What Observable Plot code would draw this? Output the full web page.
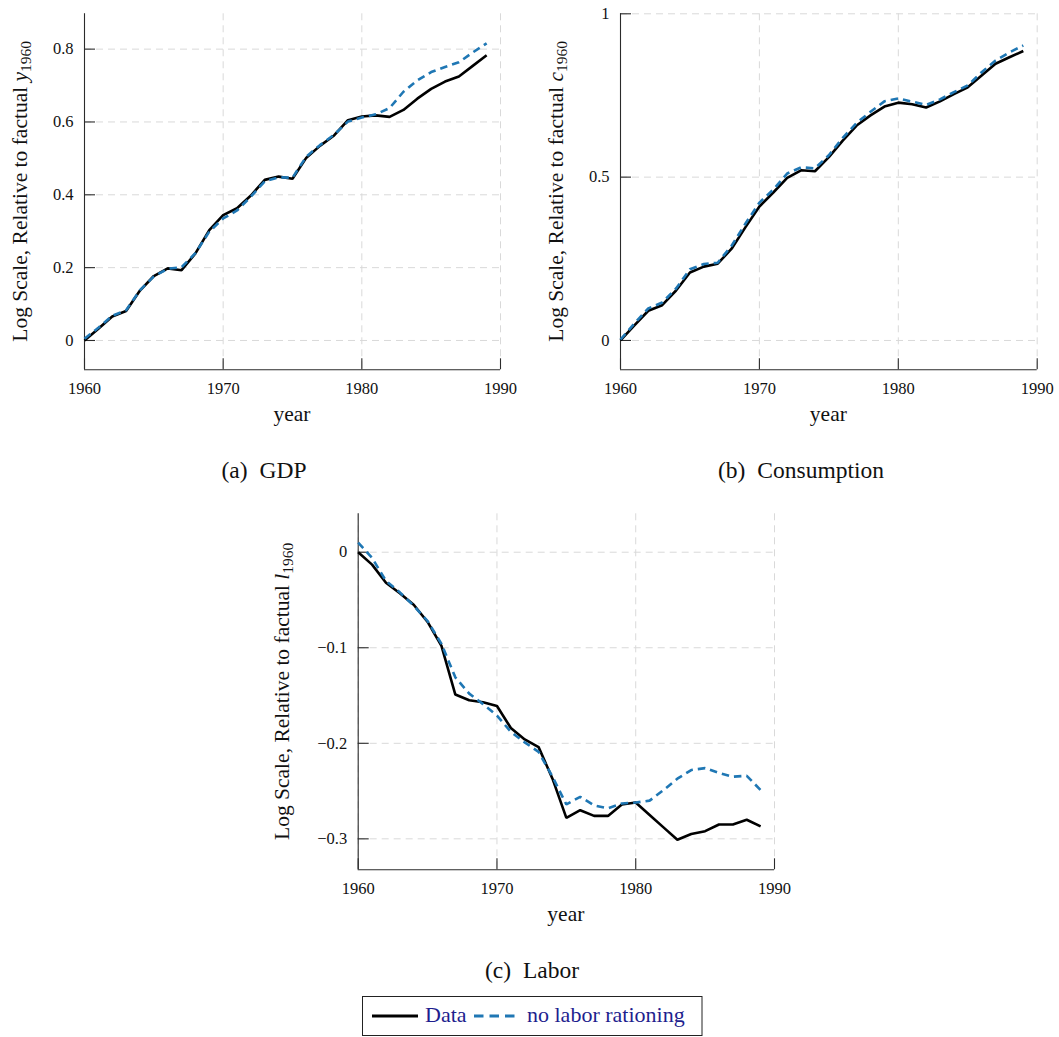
<!DOCTYPE html>
<html>
<head>
<meta charset="utf-8">
<script src="https://cdn.jsdelivr.net/npm/d3@7"></script>
<script src="https://cdn.jsdelivr.net/npm/@observablehq/plot@0.6"></script>
<style>
  body { margin: 0; background: #fff; }
  #page { position: relative; width: 1059px; height: 1037px; overflow: hidden; background: #fff; }
  .panel { position: absolute; }
  .panel svg { max-width: none; }
  #overlay { position: absolute; left: 0; top: 0; pointer-events: none; }
</style>
</head>
<body>
<div id="page"></div>
<script>
// Years covered by every series
const years = [1960, 1961, 1962, 1963, 1964, 1965, 1966, 1967, 1968, 1969,
               1970, 1971, 1972, 1973, 1974, 1975, 1976, 1977, 1978, 1979,
               1980, 1981, 1982, 1983, 1984, 1985, 1986, 1987, 1988, 1989];

// (a) GDP, log deviation from factual 1960 level
const gdpData = [0.000, 0.032, 0.066, 0.081, 0.137, 0.177, 0.198, 0.193, 0.239, 0.303,
                 0.344, 0.363, 0.398, 0.441, 0.450, 0.444, 0.502, 0.535, 0.563, 0.605,
                 0.615, 0.618, 0.614, 0.633, 0.664, 0.691, 0.711, 0.725, 0.754, 0.783];
const gdpNoRationing = [0.005, 0.035, 0.068, 0.083, 0.138, 0.176, 0.197, 0.201, 0.240, 0.299,
                        0.335, 0.357, 0.395, 0.437, 0.448, 0.447, 0.505, 0.537, 0.565, 0.601,
                        0.612, 0.621, 0.638, 0.683, 0.714, 0.737, 0.751, 0.764, 0.791, 0.816];

// (b) Consumption
const consData = [0.000, 0.046, 0.091, 0.108, 0.153, 0.208, 0.226, 0.235, 0.281, 0.347,
                  0.410, 0.453, 0.498, 0.521, 0.518, 0.561, 0.612, 0.658, 0.689, 0.716,
                  0.728, 0.723, 0.713, 0.732, 0.754, 0.775, 0.811, 0.847, 0.867, 0.886];
const consNoRationing = [0.003, 0.052, 0.098, 0.116, 0.159, 0.218, 0.234, 0.238, 0.290, 0.358,
                         0.422, 0.462, 0.511, 0.530, 0.527, 0.567, 0.620, 0.666, 0.700, 0.732,
                         0.741, 0.731, 0.721, 0.738, 0.760, 0.781, 0.821, 0.857, 0.882, 0.903];

// (c) Labor
const laborData = [0.000, -0.013, -0.032, -0.043, -0.055, -0.073, -0.098, -0.149, -0.155, -0.157,
                   -0.161, -0.184, -0.196, -0.204, -0.237, -0.278, -0.270, -0.276, -0.276, -0.264,
                   -0.262, -0.275, -0.288, -0.301, -0.295, -0.292, -0.285, -0.285, -0.280, -0.287];
const laborNoRationing = [0.010, -0.006, -0.030, -0.042, -0.056, -0.072, -0.096, -0.131, -0.148, -0.159,
                          -0.171, -0.188, -0.199, -0.209, -0.235, -0.264, -0.256, -0.265, -0.268, -0.263,
                          -0.262, -0.260, -0.249, -0.237, -0.228, -0.226, -0.231, -0.235, -0.234, -0.249];

// Tick values
const xTicks = [1960, 1970, 1980, 1990];
const gdpTicks = [0, 0.2, 0.4, 0.6, 0.8];
const consTicks = [0, 0.5, 1];
const laborTicks = [0, -0.1, -0.2, -0.3];

// Series names
const seriesNames = ["Data", "no labor rationing"];

const serif = "'Liberation Serif', 'Times New Roman', serif";
const axisColor = "#2b2b2b";
const gridColor = "#d9d9d9";
const modelBlue = "#1f77b4";
const legendInk = "#1e1e8e";

const page = document.getElementById("page");

const fmtTick = d => d === 0 ? "0" : (Number.isInteger(d) ? String(d) : d3.format(".1f")(d));

function drawPanel(cfg) {
  const {left, top, width, height, marginLeft, marginRight, marginTop, marginBottom} = cfg;
  const fw = width - marginLeft - marginRight;
  const fh = height - marginTop - marginBottom;
  const rows = years.map((year, i) => ({year, data: cfg.data[i], model: cfg.model[i]}));

  const chart = Plot.plot({
    width, height, marginLeft, marginRight, marginTop, marginBottom,
    style: {fontFamily: serif, fontSize: "16.5px", background: "transparent", color: "#111", overflow: "visible"},
    x: {domain: [1960, 1990]},
    y: {domain: cfg.yDomain},
    marks: [
      // dashed grid
      Plot.ruleY(cfg.yTicks, {stroke: gridColor, strokeWidth: 1, strokeDasharray: "7,5"}),
      Plot.ruleX(xTicks, {stroke: gridColor, strokeWidth: 1, strokeDasharray: "7,5"}),
      // left and bottom axis lines
      Plot.ruleX([1960], {stroke: axisColor, strokeWidth: 1.1}),
      Plot.ruleY([cfg.yDomain[0]], {stroke: axisColor, strokeWidth: 1.1}),
      // inward tick marks
      Plot.tickX(xTicks, {x: d => d, insetTop: fh - 11, stroke: axisColor, strokeWidth: 1.1}),
      Plot.tickY(cfg.yTicks, {y: d => d, insetRight: fw - 11, stroke: axisColor, strokeWidth: 1.1}),
      // tick labels
      Plot.axisX({ticks: xTicks, tickSize: 0, tickPadding: 12.3, tickFormat: d => String(d), label: null}),
      Plot.axisY({ticks: cfg.yTicks, tickSize: 0, tickPadding: 11, tickFormat: fmtTick, label: null}),
      // series
      Plot.lineY(rows, {x: "year", y: "data", stroke: "#000", strokeWidth: 2.6,
                        strokeLinejoin: "miter", strokeLinecap: "butt"}),
      Plot.lineY(rows, {x: "year", y: "model", stroke: modelBlue, strokeWidth: 2.6,
                        strokeDasharray: "7.5,5", strokeLinejoin: "miter", strokeLinecap: "butt"})
    ]
  });

  const svg = d3.select(chart);
  // rotated y-axis title with an italic symbol and subscript year
  const cy = marginTop + fh / 2;
  const ylab = svg.append("text")
    .attr("transform", `translate(${cfg.yLabelX},${cy}) rotate(-90)`)
    .attr("text-anchor", "middle")
    .attr("fill", "#111")
    .style("font-family", serif)
    .style("font-size", "21.5px");
  ylab.append("tspan").text("Log Scale, Relative to factual ");
  ylab.append("tspan").attr("font-style", "italic").text(cfg.symbol);
  ylab.append("tspan").attr("font-size", "15.5px").attr("dy", "3.5").text("1960");

  // x-axis title
  svg.append("text")
    .attr("x", marginLeft + fw / 2)
    .attr("y", marginTop + fh + 51.4)
    .attr("text-anchor", "middle")
    .attr("fill", "#111")
    .style("font-family", serif)
    .style("font-size", "21.5px")
    .text("year");

  const holder = document.createElement("div");
  holder.className = "panel";
  holder.style.left = left + "px";
  holder.style.top = top + "px";
  holder.style.width = width + "px";
  holder.style.height = height + "px";
  holder.appendChild(chart);
  page.appendChild(holder);
}

drawPanel({
  left: 0, top: 0, width: 530, height: 430,
  marginLeft: 84, marginRight: 30, marginTop: 13.3, marginBottom: 60.7,
  yDomain: [-0.0805, 0.897], yTicks: gdpTicks,
  data: gdpData, model: gdpNoRationing, symbol: "y", yLabelX: 27
});

drawPanel({
  left: 530, top: 0, width: 529, height: 430,
  marginLeft: 90, marginRight: 22.3, marginTop: 13.3, marginBottom: 60.7,
  yDomain: [-0.0898, 1.0], yTicks: consTicks,
  data: consData, model: consNoRationing, symbol: "c", yLabelX: 33.3
});

drawPanel({
  left: 260, top: 500, width: 540, height: 430,
  marginLeft: 97.7, marginRight: 26, marginTop: 13.3, marginBottom: 60.7,
  yDomain: [-0.3324, 0.0402], yTicks: laborTicks,
  data: laborData, model: laborNoRationing, symbol: "l", yLabelX: 29
});

// Sub-figure captions and the shared legend
const overlay = d3.select(page).append("svg")
  .attr("id", "overlay")
  .attr("width", 1059)
  .attr("height", 1037)
  .style("font-family", serif);

const captions = [
  {tag: "(a)", name: "GDP", x: 264, y: 478},
  {tag: "(b)", name: "Consumption", x: 801, y: 478},
  {tag: "(c)", name: "Labor", x: 532, y: 978}
];
for (const c of captions) {
  const t = overlay.append("text")
    .attr("x", c.x).attr("y", c.y)
    .attr("text-anchor", "middle")
    .attr("fill", "#111")
    .style("font-size", "23.5px");
  t.append("tspan").text(c.tag);
  t.append("tspan").attr("dx", 12).text(c.name);
}

const legend = overlay.append("g");
legend.append("rect")
  .attr("x", 362.5).attr("y", 996.5).attr("width", 339.5).attr("height", 39)
  .attr("fill", "#fff").attr("stroke", "#222").attr("stroke-width", 1);
legend.append("line")
  .attr("x1", 372).attr("x2", 418).attr("y1", 1016).attr("y2", 1016)
  .attr("stroke", "#000").attr("stroke-width", 3);
legend.append("text")
  .attr("x", 425).attr("y", 1022)
  .attr("fill", legendInk).style("font-size", "22px")
  .text(seriesNames[0]);
legend.append("line")
  .attr("x1", 474).attr("x2", 515).attr("y1", 1016).attr("y2", 1016)
  .attr("stroke", modelBlue).attr("stroke-width", 3).attr("stroke-dasharray", "9.5,6");
legend.append("text")
  .attr("x", 527).attr("y", 1022)
  .attr("fill", legendInk).style("font-size", "22px")
  .text(seriesNames[1]);
</script>
</body>
</html>
